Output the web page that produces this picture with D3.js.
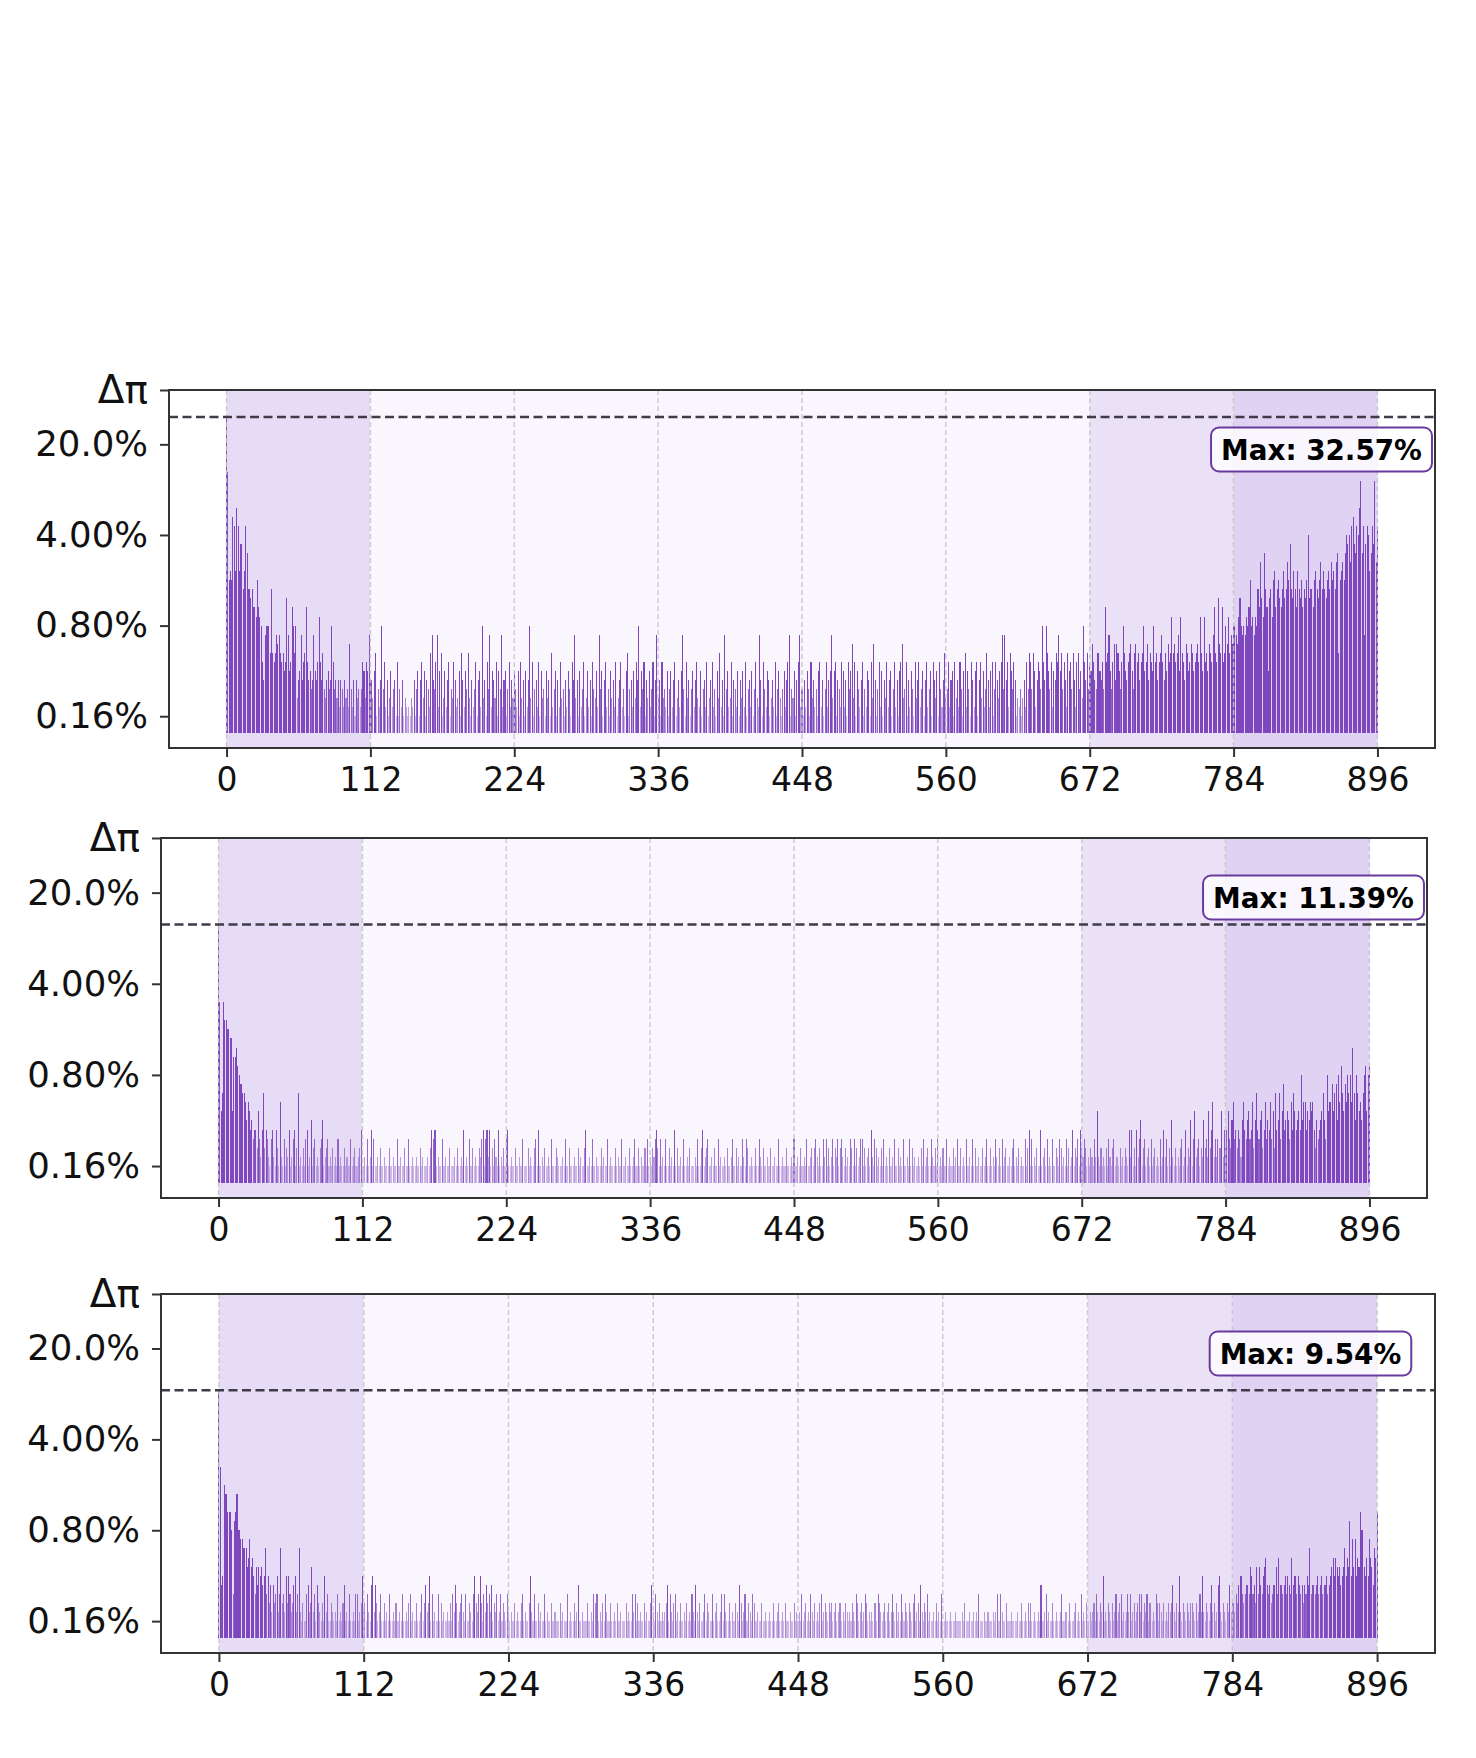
<!DOCTYPE html>
<html>
<head>
<meta charset="utf-8">
<script src="https://cdn.jsdelivr.net/npm/d3@7"></script>
<style>
  body { margin: 0; background: #fff; }
  svg { display: block; font-family: "DejaVu Sans", sans-serif; }
</style>
</head>
<body>
<svg id="chart" width="1476" height="1758"></svg>
<script>
// three stacked log-scale bar panels, one bar per position 0..896

// peak value (bar 0) of each panel, in %
const peakValues = [32.57, 11.39, 9.54];

// bars 1..896 read off the picture as levels, one char per bar, 112 bars per string
// level L -> 0.16% * 5^((L-2)/10), chars 0-9 then a-z
const panel1Levels = [
  "thihonip nillgink ggfgeedh edc86bcc c9g989ba b98978fb 78ec9c46 7b689e86 756b768d 86954675 6c856463 6536453a 53626453 587487b6",
  "64792536 c5836247 35628253 62432324 36257268 4726539b 658b3792 47368254 86347296 37594263 582673c4 6285b376 48275b36 72583647",
  "53728462 736c4825 63827452 74629357 26384526 375286b4 62735824 73628547 3b572683 52746382 46835279 25637486 c3758264 735826b4",
  "62845372 57368246 37b52846 25736843 72563824 68352749 362b5734 82653726 47382563 725843b6 28537624 63825742 57368b25 47268b35",
  "26375284 63527836 258367b4 78265387 362857a4 82753682 5376284a 62583726 48367258 36278a45 82637528 46835726 83572864 72853694",
  "58367284 63852793 75286378 26847359 63782586 478b5b68 39758624 35246385 98597368 75c86c97 5837698b 79586397 85963895 74c86958",
  "7a865997 685e89b7 58a6a975 8c97689a 759a8968 9c78a698 7c89689b 8697a89d 9a89b7d9 86a978a9 789a8d97 d897a98b e98fa9e8 9cad9bac",
  "cbadfcbc bdcehcdb dcgejfdk ge7fgdhi eghfegif gjhlgfig eigfhegf hmfggehi gfhjgigf higjhigj k9hijhkm lmjnolkn mpsknbln miknlsjn"
];
const panel2Levels = [
  "k8akiihh gg8eefdc bbaa9798 67566485 36a46532 56326429 32524362 35624a23 24256237 24523245 72345232 42325232 24232252 34223462",
  "23252362 52232422 32224223 22522322 42252232 23224232 22324656 62322522 32242223 24223262 32522423 22435625 63624253 26232425",
  "62232242 23225222 42322452 62232422 32522243 22232522 42223224 23224622 32522322 24232252 32224232 25223224 22352242 32242523",
  "24356425 23252242 32624223 25223242 22325224 62345223 24225232 23242235 22423225 32542232 24225324 22322422 32252232 24222325",
  "22324223 25223424 53242253 52423524 35245324 23254252 42355242 34263254 23242523 24223522 42325223 25242322 32425234 22532425",
  "23242252 32242352 24232522 32524223 22423522 42325324 25234223 24523242 32252462 52324226 23425232 52243254 23252423 62435264",
  "35423243 25383242 32425324 52332423 24326362 42635724 52342523 42325236 35242732 42324523 62437258 34524374 53846935 35448364",
  "68547956 46537965 7856947a 65784695 769584a6 7a58b678 7596a867 86c79968 79896475 678a75c8 99b8ab7c 9da8b9ca c9fa7ca8 97acd8cd"
];
const panel3Levels = [
  "j67hggee ec5degcc bbaaa89b 89758687 867a5746 3645735a 45374753 46735a32 42256348 35264324 27352243 23252324 62325223 25523473",
  "42532673 64235224 23252232 42232522 32452322 42235246 34725232 25242322 32425364 23453252 24325743 57425364 53624352 35243253",
  "23224232 24523224 73252242 32252322 42232224 23222523 22423622 32224223 25455232 42532242 23242232 22423225 35242322 42322463",
  "25324232 34625324 52324223 24232532 63242235 24322523 42235253 22423224 32642352 24325422 32242232 23224223 42232422 23224232",
  "32523423 25324232 45234324 34234234 42324323 24325423 42354232 32442543 23423423 53242325 32432432 45234263 24352322 32423252",
  "23222322 23222232 42223223 23252223 22322232 35225322 42223222 23224223 24242232 23262235 23224223 22352233 24222342 32523242",
  "23234253 24372324 32423523 45232353 52342345 35243524 42325424 32423243 46324373 24324324 43242353 73243246 34236732 43243634",
  "43546775 45665875 64858657 89656456 68596656 75765967 75765646 576a5665 67567566 75678979 878678a7 98d7b8b7 98ecc879 7b986a9e"
];

const xTickValues = [0, 112, 224, 336, 448, 560, 672, 784, 896];
const yTickValues = [0.16, 0.8, 4, 20];
const yTickLabels = ["0.16%", "0.80%", "4.00%", "20.0%"];
const topTickLabel = "Δπ";
const regionBounds = [[0, 112], [112, 672], [672, 784], [784, 896]];

const cfg = {
  panels: [
    { left: 169, right: 1435, top: 390, bottom: 748 },
    { left: 161, right: 1427, top: 838, bottom: 1198 },
    { left: 161, right: 1435, top: 1294, bottom: 1653 }
  ],
  xDomain: [-44.8, 940.8],
  yDomain: [0.091, 52.5],
  barBase: 0.118,
  barWidth: 0.8,
  barColor: "#7e47bd",
  regionColors: ["#e7dcf6", "#f9f6fd", "#eae1f7", "#e0d2f3"],
  xFont: 33,
  yFont: 35.5,
  topFont: 39,
  labelFont: 27.8
};

const levelChars = "0123456789abcdefghijklmnopqrstuvwxyz";

function decodePanel(levels, peak) {
  const codes = levels.join("").replace(/\s/g, "");
  const rows = [{ i: 0, v: peak }];
  for (let k = 0; k < codes.length; k++) {
    const L = levelChars.indexOf(codes[k]);
    rows.push({ i: k + 1, v: 0.16 * Math.pow(5, (L - 2) / 10) });
  }
  return rows;
}

function drawPanel(svg, box, rows, peak) {
  const x = d3.scaleLinear().domain(cfg.xDomain).range([box.left, box.right]);
  const y = d3.scaleLog().domain(cfg.yDomain).range([box.bottom, box.top]);
  const op = d3.scaleLog().domain([0.16, 0.32]).range([0.35, 1]).clamp(true);
  const g = svg.append("g");

  // shaded sections
  g.selectAll("rect.region").data(regionBounds).join("rect")
    .attr("class", "region")
    .attr("x", d => x(d[0])).attr("width", d => x(d[1]) - x(d[0]))
    .attr("y", box.top).attr("height", box.bottom - box.top)
    .attr("fill", (d, i) => cfg.regionColors[i]);

  // bars
  const w = x(cfg.barWidth) - x(0);
  g.append("g").attr("shape-rendering", "crispEdges")
    .selectAll("rect.bar").data(rows.filter(d => d.v > cfg.barBase)).join("rect")
    .attr("class", "bar")
    .attr("x", d => x(d.i - cfg.barWidth / 2)).attr("width", w)
    .attr("y", d => y(d.v)).attr("height", d => y(cfg.barBase) - y(d.v))
    .attr("fill", cfg.barColor).attr("fill-opacity", d => op(d.v));

  // vertical grid on top of bars
  g.selectAll("line.grid").data(xTickValues).join("line")
    .attr("x1", d => x(d)).attr("x2", d => x(d))
    .attr("y1", box.top).attr("y2", box.bottom)
    .attr("stroke", "#c4c4c8").attr("stroke-width", 1.5)
    .attr("stroke-dasharray", "5,3").attr("stroke-opacity", 0.85);

  // max line
  g.append("line")
    .attr("x1", box.left).attr("x2", box.right)
    .attr("y1", y(peak)).attr("y2", y(peak))
    .attr("stroke", "#3f3b48").attr("stroke-width", 2.5)
    .attr("stroke-dasharray", "9,4.5");

  // spines
  g.append("rect")
    .attr("x", box.left).attr("y", box.top)
    .attr("width", box.right - box.left).attr("height", box.bottom - box.top)
    .attr("fill", "none").attr("stroke", "#333").attr("stroke-width", 2);

  // axes
  const ax = d3.axisBottom(x).tickValues(xTickValues).tickSize(9).tickPadding(11);
  const gx = g.append("g").attr("transform", `translate(0,${box.bottom})`).call(ax)
    .call(a => a.select(".domain").remove());
  gx.selectAll(".tick text").attr("font-size", cfg.xFont);

  const topVal = cfg.yDomain[1];
  const ay = d3.axisLeft(y).tickValues([...yTickValues, topVal]).tickSize(9).tickPadding(12)
    .tickFormat(v => v === topVal ? topTickLabel : yTickLabels[yTickValues.indexOf(v)]);
  const gy = g.append("g").attr("transform", `translate(${box.left},0)`).call(ay)
    .call(a => a.select(".domain").remove());
  gy.selectAll(".tick text").attr("font-size", d => d === topVal ? cfg.topFont : cfg.yFont);

  g.selectAll(".tick line").attr("stroke", "#333").attr("stroke-width", 2);
  g.selectAll(".tick text").attr("fill", "#111").attr("font-family", "DejaVu Sans");

  // max label box
  const tx = box.left + 0.831 * (box.right - box.left);
  const boxTop = box.top + 37.5;
  const lab = g.append("g");
  const txt = lab.append("text")
    .attr("x", tx).attr("y", boxTop + 22).attr("dy", "0.36em")
    .attr("font-size", cfg.labelFont).attr("font-weight", "bold").attr("fill", "#000")
    .text(`Max: ${peak.toFixed(2)}%`);
  const bb = txt.node().getBBox();
  lab.insert("rect", "text")
    .attr("x", bb.x - 10).attr("y", boxTop)
    .attr("width", bb.width + 20).attr("height", 44)
    .attr("rx", 8).attr("ry", 8)
    .attr("fill", "#fff").attr("fill-opacity", 0.8)
    .attr("stroke", "#6b3aa0").attr("stroke-width", 2);
}

function init() {
  const svg = d3.select("#chart");
  const levels = [panel1Levels, panel2Levels, panel3Levels];
  cfg.panels.forEach((box, k) => {
    drawPanel(svg, box, decodePanel(levels[k], peakValues[k]), peakValues[k]);
  });
}

document.addEventListener("DOMContentLoaded", init);
</script>
</body>
</html>
